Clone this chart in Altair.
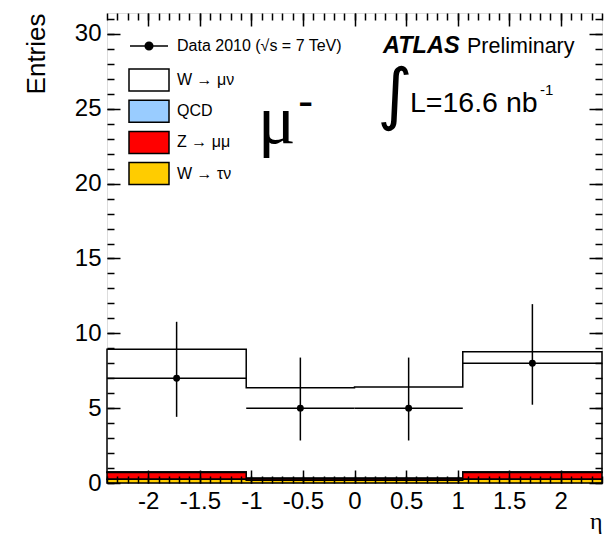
import altair as alt
import pandas as pd

# ---- data ----
edges = [-2.4, -1.05, 0.0, 1.05, 2.4]
w_munu = [8.20, 6.05, 6.09, 8.04]
qcd = [0.03, 0.02, 0.02, 0.03]
z_mumu = [0.45, 0.12, 0.12, 0.45]
w_taunu = [0.25, 0.18, 0.18, 0.25]
data_counts = [7, 5, 5, 8]
err_low = [4.42, 2.84, 2.84, 5.23]
err_high = [10.77, 8.38, 8.38, 11.95]

series_names = ["W \u2192 \u03bc\u03bd", "QCD", "Z \u2192 \u03bc\u03bc", "W \u2192 \u03c4\u03bd"]
series_colors = ["#ffffff", "#99ccff", "#ff0000", "#ffcc00"]
series_values = [w_munu, qcd, z_mumu, w_taunu]
stack_rank = [3, 2, 1, 0]
data_label = "Data 2010 (\u221as = 7 TeV)"

x_major = [-2, -1.5, -1, -0.5, 0, 0.5, 1, 1.5, 2]
x_minor = [round(-2.4 + 0.1 * i, 2) for i in range(49)]
y_major = [0, 5, 10, 15, 20, 25, 30]
y_minor = list(range(0, 32))

# ---- tables ----
rows = []
for name, vals, rank in zip(series_names, series_values, stack_rank):
    for i, e in enumerate(edges):
        rows.append({"eta": e, "entries": vals[min(i, len(vals) - 1)],
                     "series": name, "rank": rank})
hist_df = pd.DataFrame(rows)

data_df = pd.DataFrame({
    "lo": edges[:-1], "hi": edges[1:],
    "center": [(a + b) / 2 for a, b in zip(edges[:-1], edges[1:])],
    "n": data_counts, "elo": err_low, "ehi": err_high,
})

FONT = "Liberation Sans"
xs = alt.Scale(domain=[-2.4, 2.4], nice=False, zero=False)
ys = alt.Scale(domain=[0, 31.4], nice=False, zero=False)

def ax(orient, values, size, labels=False, **kw):
    return alt.Axis(orient=orient, values=values, tickSize=size, offset=-size,
                    domain=False, grid=False, labels=labels, ticks=True,
                    tickColor="black", tickWidth=1.5, zindex=2, **kw)

x_bottom_major = ax("bottom", x_major, 13, labels=True, labelFont=FONT, labelFontSize=24,
                    labelColor="black", labelPadding=6, format="~g",
                    labelExpr="replace(datum.label, '\u2212', '-')",
                    title="\u03b7", titleFont="Liberation Serif", titleFontSize=24,
                    titleFontWeight="normal", titleColor="black", titleAnchor="end",
                    titlePadding=-4)
x_bottom_minor = ax("bottom", x_minor, 7, title=None)
x_top_major = ax("top", x_major, 13, title=None)
x_top_minor = ax("top", x_minor, 7, title=None)

y_left_major = ax("left", y_major, 13, labels=True, labelFont=FONT, labelFontSize=24,
                  labelColor="black", labelPadding=6,
                  title="Entries", titleFont=FONT, titleFontSize=26,
                  titleFontWeight="normal", titleColor="black", titleAnchor="end",
                  titlePadding=25)
y_left_minor = ax("left", y_minor, 7, title=None)
y_right_major = ax("right", y_major, 13, title=None)
y_right_minor = ax("right", y_minor, 7, title=None)

rect_path = "M-2,-1.1H2V1.1H-2Z"
data_path = "M-1.9,0H1.9M-0.38,0A0.38,0.38 0 1,1 0.38,0A0.38,0.38 0 1,1 -0.38,0Z"

area = alt.Chart(hist_df).mark_area(
    interpolate="step-after", stroke="black", strokeWidth=1.5, opacity=1
).encode(
    x=alt.X("eta:Q", scale=xs, axis=x_bottom_major),
    y=alt.Y("entries:Q", stack="zero", scale=ys, axis=y_left_major),
    fill=alt.Fill("series:N", scale=alt.Scale(domain=series_names, range=series_colors),
                  legend=alt.Legend(orient="none", legendX=31, legendY=56, title=None,
                                    symbolType=rect_path, symbolSize=400,
                                    symbolStrokeColor="black", symbolStrokeWidth=1.5,
                                    symbolFillColor="white",
                                    labelFont=FONT, labelFontSize=16, labelColor="black",
                                    labelOffset=17, rowPadding=3.2, padding=0,
                                    labelLimit=400)),
    order=alt.Order("rank:Q"),
)

hbars = alt.Chart(data_df).mark_rule(color="black", strokeWidth=1.5).encode(
    x=alt.X("lo:Q", scale=xs, axis=x_bottom_minor),
    x2="hi:Q",
    y=alt.Y("n:Q", scale=ys, axis=y_left_minor),
)

vbars = alt.Chart(data_df).mark_rule(color="black", strokeWidth=1.5).encode(
    x=alt.X("center:Q", scale=xs, axis=x_top_major),
    y=alt.Y("elo:Q", scale=ys, axis=y_right_major),
    y2="ehi:Q",
)

points = alt.Chart(data_df).mark_circle(color="black", size=48, opacity=1).encode(
    x=alt.X("center:Q", scale=xs, axis=x_top_minor),
    y=alt.Y("n:Q", scale=ys, axis=y_right_minor),
)

data_legend = alt.Chart(pd.DataFrame({"label": [data_label]})).mark_point(
    filled=True, fill="black", stroke="black", strokeWidth=1.5, opacity=1
).encode(
    shape=alt.Shape("label:N", scale=alt.Scale(domain=[data_label], range=[data_path]),
                    legend=alt.Legend(orient="none", legendX=31, legendY=22, title=None,
                                      symbolSize=400, symbolStrokeWidth=1.5,
                                      labelFont=FONT, labelFontSize=16, labelColor="black",
                                      labelOffset=17, padding=0, labelLimit=400)),
).transform_filter("false")

def txt(text, x, y, size, **kw):
    return alt.Chart(pd.DataFrame({"t": [text]})).mark_text(
        fontSize=size, color="black", align=kw.pop("align", "left"),
        baseline=kw.pop("baseline", "alphabetic"), font=kw.pop("font", FONT), **kw
    ).encode(text="t:N", x=alt.value(x), y=alt.value(y))

texts = [
    txt("ATLAS", 276, 40, 23.5, fontWeight="bold", fontStyle="italic"),
    txt("Preliminary", 360, 40, 21.5),
    txt("\u222b", 288, 84, 68, align="center", baseline="middle", font="DejaVu Sans"),
    txt("L=16.6 nb", 303, 99, 28.5),
    txt("-1", 433, 82, 15),
    txt("\u03bc", 151, 130, 70, font="Liberation Serif"),
    txt("-", 191, 104, 46),
]

chart = alt.layer(area, hbars, vbars, points, data_legend, *texts).resolve_axis(
    x="independent", y="independent"
).properties(
    width=495, height=470,
    autosize=alt.AutoSizeParams(type="none"),
    padding={"left": 107, "top": 13, "right": 10, "bottom": 56},
).configure_view(stroke="black", strokeWidth=2).configure(background="white")

chart.save("out.html", embed_options={"renderer": "svg", "actions": False})
